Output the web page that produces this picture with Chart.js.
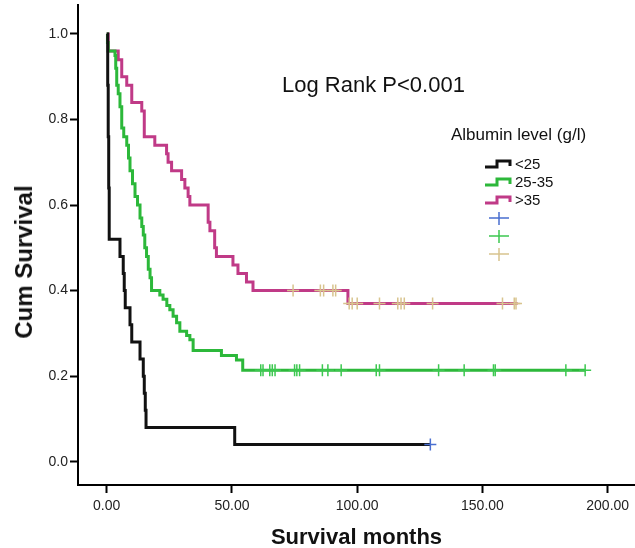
<!DOCTYPE html>
<html lang="en">
<head>
    <meta charset="UTF-8">
    <title>Cum Survival by Albumin level</title>
    <script src="https://cdn.jsdelivr.net/npm/chart.js"></script>
    <style>
        body {
            margin: 0;
            background: #fff;
            font-family: 'Liberation Sans', Arial, sans-serif;
        }
        .wrap {
            position: relative;
            width: 635px;
            height: 548px;
        }
        canvas {
            display: block;
        }
        .logrank {
            position: absolute;
            left: 282px;
            top: 72px;
            font-size: 22px;
            color: #111;
            white-space: nowrap;
        }
        .ytitle {
            position: absolute;
            left: 24px;
            top: 262px;
            transform: translate(-50%, -50%) rotate(-90deg);
            font-size: 24px;
            font-weight: bold;
            color: #111;
            white-space: nowrap;
        }
        #legend {
            position: absolute;
            left: 451px;
            top: 125px;
            color: #111;
        }
        #legend .ltitle {
            font-size: 17px;
            margin-bottom: 10px;
            white-space: nowrap;
        }
        #legend .row {
            position: relative;
            height: 18px;
            margin-left: 33px;
            font-size: 15px;
            line-height: 18px;
        }
        #legend svg {
            position: absolute;
            left: 0;
            top: 0;
        }
        #legend span {
            position: absolute;
            left: 31px;
            top: 0;
        }
    </style>
</head>
<body>
    <div class="wrap">
        <canvas id="kmChart" width="635" height="548"></canvas>
        <div class="logrank">Log Rank P&lt;0.001</div>
        <div class="ytitle">Cum Survival</div>
        <div id="legend"></div>
    </div>

    <script>
        const xTicks = [0, 50, 100, 150, 200];
        const yTicks = [0, 0.2, 0.4, 0.6, 0.8, 1.0];
        const groupLabels = ['<25', '25-35', '>35'];

        // albumin < 25 g/l
        const lowTime = [0, 0.4, 0.6, 0.8, 1.0, 5.3, 6.6, 7.0, 7.4, 9.3, 10.0, 13.3, 14.6, 15.0, 15.4, 15.7, 51.1, 129.2];
        const lowSurv = [1.0, 0.88, 0.76, 0.64, 0.52, 0.48, 0.44, 0.40, 0.36, 0.32, 0.28, 0.24, 0.20, 0.16, 0.12, 0.08, 0.04, 0.04];

        // albumin 25-35 g/l
        const midTime = [0, 0.3, 0.6, 3.3, 3.6, 4.0, 4.6, 5.3, 6.0, 6.8, 8.0, 8.7, 9.3, 10.3, 11.3, 12.3, 13.3, 14.0, 14.6, 15.2, 15.9, 16.6, 17.3, 17.9, 21.2, 22.5, 24.0, 25.2, 26.5, 27.9, 29.2, 31.9, 33.2, 34.5, 45.8, 51.8, 54.3, 191.2];
        const midSurv = [1.0, 0.98, 0.96, 0.95, 0.92, 0.88, 0.86, 0.83, 0.78, 0.76, 0.74, 0.71, 0.68, 0.65, 0.62, 0.60, 0.57, 0.55, 0.53, 0.50, 0.48, 0.45, 0.43, 0.40, 0.39, 0.38, 0.365, 0.355, 0.34, 0.325, 0.305, 0.295, 0.285, 0.26, 0.248, 0.238, 0.214, 0.214];

        // albumin > 35 g/l
        const highTime = [0, 0.6, 4.6, 6.0, 8.0, 10.0, 14.0, 15.0, 19.2, 23.9, 24.5, 25.9, 29.9, 31.2, 32.5, 33.2, 40.5, 41.2, 43.1, 43.8, 50.4, 52.4, 55.8, 58.4, 96.3, 164.0];
        const highSurv = [1.0, 0.96, 0.94, 0.90, 0.88, 0.84, 0.82, 0.76, 0.74, 0.72, 0.70, 0.68, 0.66, 0.64, 0.62, 0.60, 0.56, 0.54, 0.50, 0.48, 0.46, 0.44, 0.42, 0.40, 0.37, 0.37];

        // censored cases
        const lowCensTime = [129.2];
        const lowCensSurv = [0.04];
        const midCensTime = [61.5, 62.4, 65.1, 66.1, 67.2, 75.0, 75.9, 77.0, 86.1, 88.3, 93.6, 107.6, 108.9, 132.5, 142.7, 154.4, 155.1, 183.3, 191.0];
        const midCensSurv = [0.214, 0.214, 0.214, 0.214, 0.214, 0.214, 0.214, 0.214, 0.214, 0.214, 0.214, 0.214, 0.214, 0.214, 0.214, 0.214, 0.214, 0.214, 0.214];
        const highCensTime = [74.4, 85.3, 86.6, 90.3, 91.4, 96.8, 98.0, 100.0, 108.9, 116.2, 117.5, 118.8, 130.1, 158.0, 162.7, 163.4];
        const highCensSurv = [0.40, 0.40, 0.40, 0.40, 0.40, 0.37, 0.37, 0.37, 0.37, 0.37, 0.37, 0.37, 0.37, 0.37, 0.37, 0.37];

        const lineColors = ['#111111', '#2cb83a', '#c03a87'];
        const censColors = ['#4a6fd0', '#3cc850', '#d8c48e'];

        function toPoints(xs, ys) {
            return xs.map((x, i) => ({ x: x, y: ys[i] }));
        }

        function curve(label, xs, ys, color) {
            return {
                label: label,
                data: toPoints(xs, ys),
                borderColor: color,
                borderWidth: 3,
                pointRadius: 0,
                stepped: 'before',
                fill: false,
                order: 2
            };
        }

        function censored(label, xs, ys, color) {
            return {
                label: label,
                data: toPoints(xs, ys),
                showLine: false,
                pointStyle: 'cross',
                pointRadius: 6,
                pointBorderWidth: 1.5,
                pointBorderColor: color,
                pointBackgroundColor: color,
                order: 1
            };
        }

        const ctx = document.getElementById('kmChart').getContext('2d');
        const fontFamily = "'Liberation Sans', Arial, sans-serif";
        const tickFont = { family: fontFamily, size: 14 };

        new Chart(ctx, {
            type: 'line',
            data: {
                datasets: [
                    curve(groupLabels[0], lowTime, lowSurv, lineColors[0]),
                    curve(groupLabels[1], midTime, midSurv, lineColors[1]),
                    curve(groupLabels[2], highTime, highSurv, lineColors[2]),
                    censored(groupLabels[0] + '-censored', lowCensTime, lowCensSurv, censColors[0]),
                    censored(groupLabels[1] + '-censored', midCensTime, midCensSurv, censColors[1]),
                    censored(groupLabels[2] + '-censored', highCensTime, highCensSurv, censColors[2])
                ]
            },
            options: {
                responsive: false,
                animation: false,
                layout: { autoPadding: false, padding: { top: 5, right: 0, bottom: 0, left: 0 } },
                plugins: {
                    legend: { display: false },
                    tooltip: { enabled: false }
                },
                scales: {
                    x: {
                        type: 'linear',
                        min: -11.46,
                        max: 210.9,
                        afterBuildTicks: s => { s.ticks = xTicks.map(v => ({ value: v })); },
                        afterFit: s => {
                            s.height = 63;
                            s.paddingLeft = 0;
                            s.paddingRight = 0;
                        },
                        grid: { drawOnChartArea: false, drawTicks: true, tickLength: 8, tickWidth: 2, color: '#000' },
                        border: { display: true, color: '#000', width: 2 },
                        ticks: {
                            font: tickFont,
                            color: '#222',
                            padding: 5,
                            maxRotation: 0,
                            callback: v => v.toFixed(2)
                        },
                        title: {
                            display: true,
                            text: 'Survival months',
                            color: '#111',
                            font: { family: fontFamily, size: 22, weight: 'bold', lineHeight: 1 },
                            padding: { top: 0, bottom: -1 }
                        }
                    },
                    y: {
                        type: 'linear',
                        min: -0.0545,
                        max: 1.0678,
                        afterBuildTicks: s => { s.ticks = yTicks.map(v => ({ value: v })); },
                        afterFit: s => {
                            s.width = 78;
                            s.paddingTop = 0;
                            s.paddingBottom = 0;
                        },
                        grid: { drawOnChartArea: false, drawTicks: true, tickLength: 8, tickWidth: 2, color: '#000' },
                        border: { display: true, color: '#000', width: 2 },
                        ticks: {
                            font: tickFont,
                            color: '#222',
                            padding: 2,
                            callback: v => v.toFixed(1)
                        }
                    }
                }
            }
        });

        // legend box like the original SPSS one
        const legend = document.getElementById('legend');
        const title = document.createElement('div');
        title.className = 'ltitle';
        title.textContent = 'Albumin level (g/l)';
        legend.appendChild(title);

        const svgNS = 'http://www.w3.org/2000/svg';
        function addRow(drawIcon, text) {
            const row = document.createElement('div');
            row.className = 'row';
            const svg = document.createElementNS(svgNS, 'svg');
            svg.setAttribute('width', '30');
            svg.setAttribute('height', '18');
            drawIcon(svg);
            row.appendChild(svg);
            if (text) {
                const span = document.createElement('span');
                span.textContent = text;
                row.appendChild(span);
            }
            legend.appendChild(row);
        }
        function stepIcon(color) {
            return svg => {
                const p = document.createElementNS(svgNS, 'path');
                p.setAttribute('d', 'M1 12 H13 V6 H26 V11');
                p.setAttribute('stroke', color);
                p.setAttribute('stroke-width', '3');
                p.setAttribute('fill', 'none');
                svg.appendChild(p);
            };
        }
        function crossIcon(color) {
            return svg => {
                const p = document.createElementNS(svgNS, 'path');
                p.setAttribute('d', 'M5 9 H25 M15 3 V16');
                p.setAttribute('stroke', color);
                p.setAttribute('stroke-width', '1.5');
                p.setAttribute('fill', 'none');
                svg.appendChild(p);
            };
        }
        groupLabels.forEach((g, i) => addRow(stepIcon(lineColors[i]), g));
        groupLabels.forEach((g, i) => addRow(crossIcon(censColors[i]), ''));
    </script>
</body>
</html>
